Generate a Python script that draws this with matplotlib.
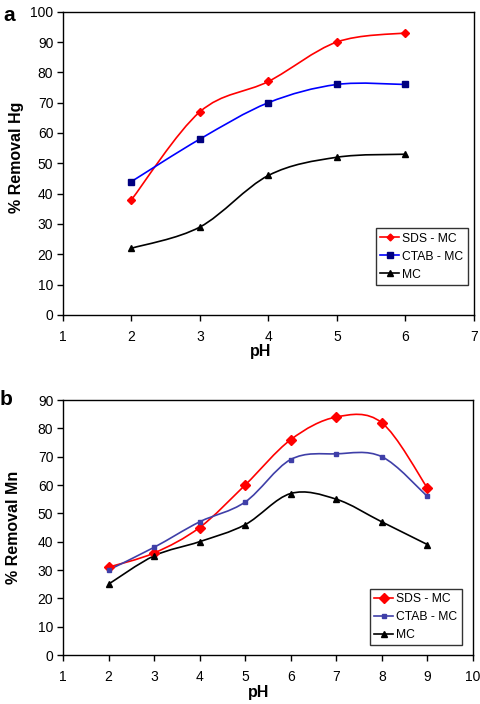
import numpy as np
import matplotlib
matplotlib.use("Agg")
import matplotlib.pyplot as plt
from matplotlib.path import Path
from matplotlib.patches import PathPatch
from matplotlib.lines import Line2D

plt.rcParams['font.family'] = ['Liberation Sans', 'DejaVu Sans']

# ---- data panel a (Hg) ----
ph_a = [2, 3, 4, 5, 6]
sds_a = [38, 67, 77, 90, 93]
ctab_a = [44, 58, 70, 76, 76]
mc_a = [22, 29, 46, 52, 53]

# ---- data panel b (Mn) ----
ph_b = [2, 3, 4, 5, 6, 7, 8, 9]
sds_b = [31, 36, 45, 60, 76, 84, 82, 59]
ctab_b = [30, 38, 47, 54, 69, 71, 70, 56]
mc_b = [25, 35, 40, 46, 57, 55, 47, 39]

labels = ['SDS - MC', 'CTAB - MC', 'MC']


def smooth_path(ax, x, y, color, lw):
    """Excel-style smoothed line: cubic Bezier with Catmull-Rom control points,
    built in display coords from data via the axes transform."""
    pts = ax.transData.transform(np.column_stack([x, y]))
    n = len(pts)
    verts = [pts[0]]
    codes = [Path.MOVETO]
    for i in range(n - 1):
        p0 = pts[i - 1] if i > 0 else pts[i]
        p1 = pts[i]
        p2 = pts[i + 1]
        p3 = pts[i + 2] if i + 2 < n else pts[i + 1]
        c1 = p1 + (p2 - p0) / 6.0
        c2 = p2 - (p3 - p1) / 6.0
        verts += [c1, c2, p2]
        codes += [Path.CURVE4] * 3
    inv = ax.transData.inverted()
    verts = inv.transform(np.array(verts))
    patch = PathPatch(Path(verts, codes), facecolor='none', edgecolor=color,
                      lw=lw, transform=ax.transData, zorder=2)
    ax.add_patch(patch)


fig = plt.figure(figsize=(4.81, 7.04), dpi=100)


def style_axes(ax, xmax, ymax, ystep, ylabel, xl_pos, yl_pos):
    ax.set_xlim(1, xmax)
    ax.set_ylim(0, ymax)
    ax.set_xticks(range(1, xmax + 1))
    ax.set_yticks(range(0, ymax + 1, ystep))
    ax.tick_params(axis='x', direction='out', length=4, width=1, labelsize=10, pad=7)
    ax.tick_params(axis='y', direction='out', length=4, width=1, labelsize=10, pad=3)
    for s in ax.spines.values():
        s.set_linewidth(1.0)
    ax.set_xlabel('pH', fontsize=11.5, fontweight='bold')
    ax.set_ylabel(ylabel, fontsize=11.5, fontweight='bold')
    ax.xaxis.set_label_coords(*xl_pos)
    ax.yaxis.set_label_coords(*yl_pos)
    ax.xaxis.label.set_va('center')
    ax.yaxis.label.set_va('center')


# Panel a
ax1 = fig.add_axes([0.131, 0.5526, 0.854, 0.4308])
style_axes(ax1, 7, 100, 10, '% Removal Hg', (0.48, -0.119), (-0.114, 0.52))
fig.text(0.006, 0.970, 'a', fontsize=15, fontweight='bold', va='baseline')
fig.canvas.draw()
specs_a = [
    (sds_a, 'red', 'red', 'D', 4.5),
    (ctab_a, 'blue', '#000080', 's', 5),
    (mc_a, 'black', 'black', '^', 5),
]
handles = []
for (yv, lc, mcol, mk, ms), lab in zip(specs_a, labels):
    smooth_path(ax1, ph_a, yv, lc, 1.2)
    ax1.plot(ph_a, yv, ls='none', marker=mk, ms=ms, color=mcol, zorder=3)
    handles.append(Line2D([], [], color=lc, lw=1.2, marker=mk, ms=ms - 1,
                          markerfacecolor=mcol, markeredgecolor=mcol))
leg = ax1.legend(handles, labels, loc='lower right', bbox_to_anchor=(0.985, 0.099),
                 fontsize=8.7, frameon=True, fancybox=False, edgecolor='black',
                 handlelength=1.6, handletextpad=0.25, borderpad=0.35,
                 labelspacing=0.5, borderaxespad=0)
leg.get_frame().set_linewidth(1.0)

# Panel b
ax2 = fig.add_axes([0.131, 0.0696, 0.852, 0.3622])
style_axes(ax2, 10, 90, 10, '% Removal Mn', (0.477, -0.149), (-0.122, 0.5))
fig.text(0.0, 0.4247, 'b', fontsize=15, fontweight='bold', va='baseline')
fig.canvas.draw()
specs_b = [
    (sds_b, 'red', 'red', 'D', 5),
    (ctab_b, '#3f3fa8', '#3f3fa8', 's', 3),
    (mc_b, 'black', 'black', '^', 4),
]
handles = []
for (yv, lc, mcol, mk, ms), lab in zip(specs_b, labels):
    smooth_path(ax2, ph_b, yv, lc, 1.2)
    ax2.plot(ph_b, yv, ls='none', marker=mk, ms=ms, color=mcol, zorder=3)
    handles.append(Line2D([], [], color=lc, lw=1.2, marker=mk, ms=ms,
                          markerfacecolor=mcol, markeredgecolor=mcol))
leg2 = ax2.legend(handles, labels, loc='lower right', bbox_to_anchor=(0.973, 0.039),
                  fontsize=8.7, frameon=True, fancybox=False, edgecolor='black',
                  handlelength=1.6, handletextpad=0.25, borderpad=0.35,
                  labelspacing=0.5, borderaxespad=0)
leg2.get_frame().set_linewidth(1.0)

fig.savefig('out.png', dpi=100)
